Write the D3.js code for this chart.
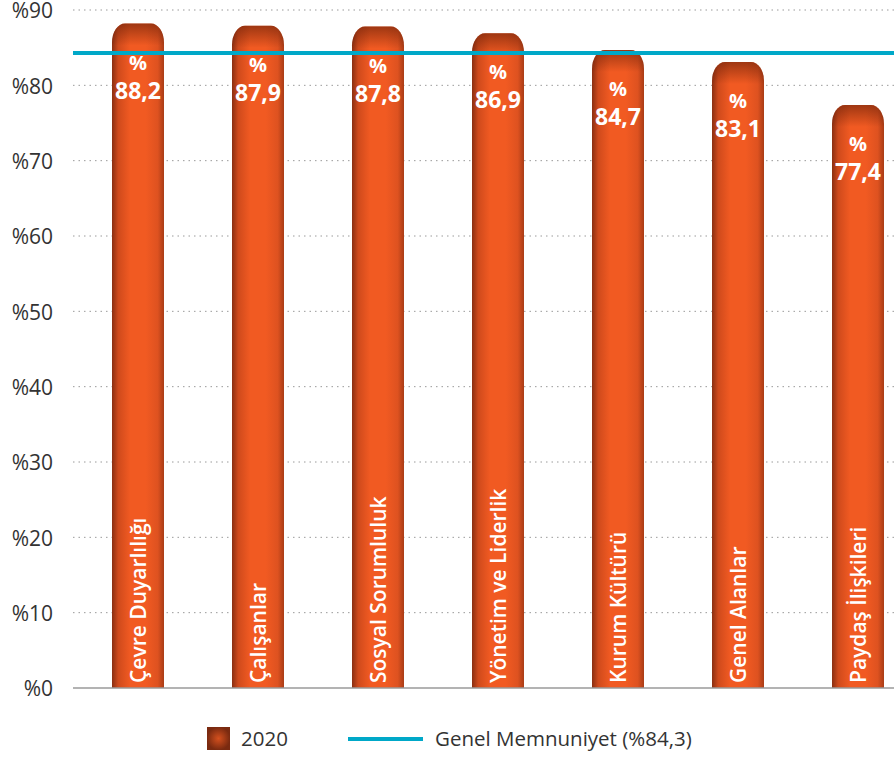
<!DOCTYPE html>
<html><head><meta charset="utf-8">
<script src="https://cdn.jsdelivr.net/npm/d3@7"></script>
<style>body{margin:0;background:#fff}svg{display:block}</style>
</head><body>
<svg id="c" width="894" height="760"></svg>
<script>
const categories = ["Çevre Duyarlılığı","Çalışanlar","Sosyal Sorumluluk","Yönetim ve Liderlik","Kurum Kültürü","Genel Alanlar","Paydaş İlişkileri"];
const values2020 = [88.2, 87.9, 87.8, 86.9, 84.7, 83.1, 77.4];
const overall = 84.3;
const yTicks = [0,10,20,30,40,50,60,70,80,90];
const legendLabels = ["2020", "Genel Memnuniyet (%84,3)"];

const svg = d3.select("#c");
const font = "'Open Sans', 'Noto Sans', sans-serif";
const x0 = 73, x1 = 894, yTop = 10, yBot = 688;
const x = d3.scaleBand().domain(categories).range([78, 918]).paddingInner(0.5667).paddingOuter(0.2833);
const y = d3.scaleLinear().domain([0, 90]).range([yBot, yTop]);
const fmt = v => v.toFixed(1).replace(".", ",");

const defs = svg.append("defs");
const g = defs.append("linearGradient").attr("id","barg").attr("x1","0").attr("x2","1").attr("y1","0").attr("y2","0");
[["0%","#8a2f12"],["12%","#cf4a1c"],["35%","#f15a22"],["65%","#f15a22"],["88%","#de5220"],["100%","#a93c16"]]
  .forEach(([o,c]) => g.append("stop").attr("offset",o).attr("stop-color",c));
const gt = defs.append("linearGradient").attr("id","topg").attr("x1","0").attr("x2","0").attr("y1","0").attr("y2","1");
[["0%","#5a1a05",0.55],["100%","#5a1a05",0]].forEach(([o,c,a]) => gt.append("stop").attr("offset",o).attr("stop-color",c).attr("stop-opacity",a));
const rg = defs.append("radialGradient").attr("id","legg");
[["0%","#d4501e"],["100%","#7a2a10"]].forEach(([o,c]) => rg.append("stop").attr("offset",o).attr("stop-color",c));

// gridlines
svg.append("g").selectAll("line").data(yTicks.filter(t => t > 0)).join("line")
  .attr("x1", x0).attr("x2", x1).attr("y1", d => y(d)).attr("y2", d => y(d))
  .attr("stroke", "#9a9a9a").attr("stroke-width", 1).attr("stroke-dasharray", "1.5,4");

// y axis labels
svg.append("g").selectAll("text").data(yTicks).join("text")
  .attr("x", 53).attr("y", d => y(d) + 1).attr("dy", "0.35em").attr("text-anchor", "end")
  .attr("font-family", font).attr("font-size", 21).attr("fill", "#333")
  .text(d => "%" + d);

// bars
const bw = x.bandwidth(), rx = 13, ry = 19;
function barPath(xl, yt, w, yb) {
  return `M${xl},${yb} L${xl},${yt+ry} A${rx},${ry} 0 0 1 ${xl+rx},${yt} L${xl+w-rx},${yt} A${rx},${ry} 0 0 1 ${xl+w},${yt+ry} L${xl+w},${yb} Z`;
}
const bars = svg.append("g").selectAll("g").data(categories).join("g");
bars.append("path").attr("d", (d,i) => barPath(x(d), y(values2020[i]), bw, yBot)).attr("fill", "url(#barg)");
bars.append("path").attr("d", (d,i) => barPath(x(d), y(values2020[i]), bw, y(values2020[i]) + 22)).attr("fill", "url(#topg)");

// axis line
svg.append("line").attr("x1", x0).attr("x2", x1).attr("y1", yBot).attr("y2", yBot).attr("stroke", "#9a9a9a").attr("stroke-width", 1.5);

// overall line
svg.append("line").attr("x1", x0).attr("x2", x1).attr("y1", y(overall)).attr("y2", y(overall))
  .attr("stroke", "#00a8c8").attr("stroke-width", 4);

// value labels
bars.append("text").attr("x", d => x(d) + bw/2).attr("y", (d,i) => y(values2020[i]) + 46)
  .attr("text-anchor", "middle").attr("font-family", font).attr("font-weight", 700).attr("font-size", 20).attr("fill", "#fff").text("%");
bars.append("text").attr("x", d => x(d) + bw/2).attr("y", (d,i) => y(values2020[i]) + 75)
  .attr("text-anchor", "middle").attr("font-family", font).attr("font-weight", 700).attr("font-size", 23).attr("fill", "#fff")
  .text((d,i) => fmt(values2020[i]));

// category labels
bars.append("text").attr("transform", d => `translate(${x(d) + bw/2 + 8},${yBot - 5}) rotate(-90)`)
  .attr("text-anchor", "start").attr("font-family", font).attr("font-weight", 600).attr("font-size", 21).attr("fill", "#fff")
  .text(d => d);

// legend
const lg = svg.append("g");
lg.append("rect").attr("x", 207).attr("y", 727).attr("width", 23).attr("height", 23).attr("fill", "url(#legg)");
lg.append("text").attr("x", 241).attr("y", 739).attr("dy", "0.35em").attr("font-family", font).attr("font-size", 20.5).attr("fill", "#333").text(legendLabels[0]);
lg.append("line").attr("x1", 348).attr("x2", 423).attr("y1", 739).attr("y2", 739).attr("stroke", "#00a8c8").attr("stroke-width", 4);
lg.append("text").attr("x", 435).attr("y", 739).attr("dy", "0.35em").attr("font-family", font).attr("font-size", 20.5).attr("fill", "#333").text(legendLabels[1]);
</script>
</body></html>
